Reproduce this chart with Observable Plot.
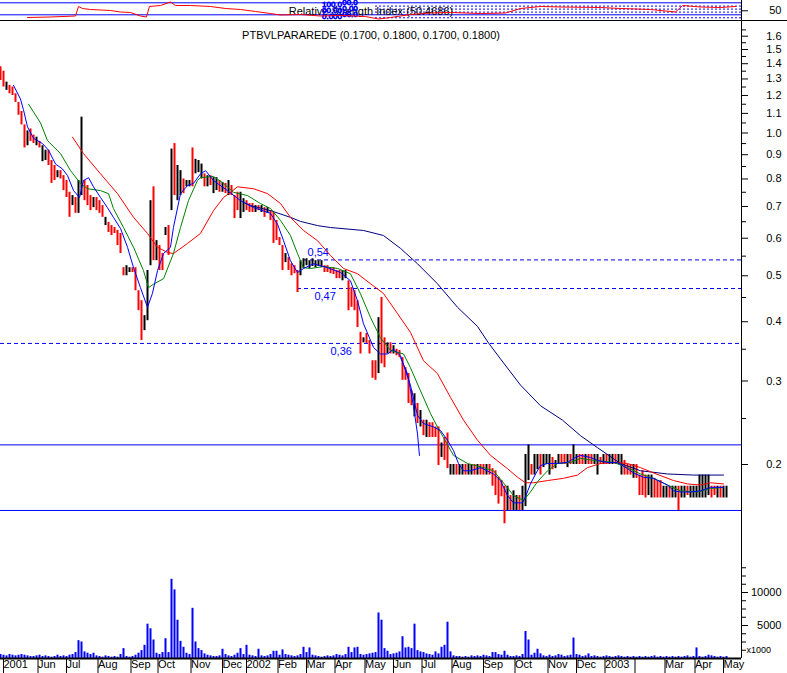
<!DOCTYPE html>
<html>
<head>
<meta charset="utf-8">
<script src="https://cdn.jsdelivr.net/npm/d3@7"></script>
<script src="https://cdn.jsdelivr.net/npm/@observablehq/plot@0.6"></script>
<style>
  html, body { margin: 0; padding: 0; background: #fff; }
  #chart { width: 787px; }
  #chart svg { display: block; }
  #rsiWrap { border-bottom: 1px solid #000; height: 20px; }
</style>
</head>
<body>
<div id="chart"><div id="rsiWrap"></div><div id="priceWrap"></div><div id="volWrap"></div></div>
<script>
// ---------- DATA ----------
const ticker = "PTBVLPARAREDE";
const lastOHLC = ["0.1700", "0.1800", "0.1700", "0.1800"];
const rsiTitle = "Relative Strength Index (50.4686)";

// one bar every 2 trading days (t = 0, 2, 4, ...)
const highs = [
  1.38,1.35,1.28,1.26,1.25,1.21,1.16,1.11,1.04,1.01,
  1.02,0.99,0.98,0.96,0.94,0.92,0.92,0.875,0.854,0.833,
  0.833,0.813,0.794,0.75,0.738,0.731,0.794,1.08,0.794,0.775,
  0.738,0.731,0.731,0.72,0.703,0.664,0.648,0.638,0.632,0.623,
  0.614,0.52,0.525,0.52,0.52,0.52,0.465,0.443,0.412,0.513,
  0.72,0.77,0.593,0.579,0.557,0.632,0.638,0.925,0.95,0.854,
  0.833,0.80,0.794,0.794,0.93,0.88,0.875,0.86,0.82,0.813,
  0.813,0.805,0.805,0.794,0.787,0.783,0.794,0.775,0.738,0.75,
  0.75,0.727,0.72,0.71,0.71,0.703,0.703,0.703,0.696,0.696,
  0.686,0.68,0.654,0.602,0.579,0.557,0.546,0.53,0.525,0.513,
  0.538,0.543,0.543,0.538,0.543,0.538,0.538,0.538,0.525,0.525,
  0.52,0.52,0.513,0.513,0.513,0.513,0.488,0.472,0.465,0.443,
  0.38,0.37,0.378,0.365,0.331,0.331,0.408,0.45,0.37,0.361,
  0.361,0.356,0.35,0.348,0.336,0.32,0.311,0.286,0.282,0.269,
  0.26,0.248,0.248,0.245,0.245,0.24,0.24,0.222,0.228,0.233,
  0.20,0.20,0.20,0.20,0.20,0.20,0.20,0.20,0.20,0.20,0.20,0.20,0.20,0.20,
  0.196,0.194,0.188,0.185,0.18,0.18,0.172,0.176,0.172,0.172,
  0.18,0.21,0.22,0.20,0.21,0.21,0.21,0.21,0.21,0.21,
  0.207,0.204,0.21,0.21,0.21,0.21,0.21,0.22,0.21,0.21,
  0.21,0.21,0.21,0.21,0.21,0.21,0.207,0.21,0.21,0.21,
  0.21,0.21,0.21,0.21,0.204,0.20,0.20,0.20,0.20,0.19,
  0.194,0.19,0.19,0.19,0.187,0.185,0.185,0.18,0.18,0.18,
  0.18,0.18,0.18,0.18,0.18,0.18,0.18,0.18,0.18,0.19,
  0.19,0.19,0.19,0.18,0.18,0.18,0.18,0.18,0.18
];
const lows = [
  1.29,1.25,1.23,1.21,1.20,1.16,1.09,1.04,0.93,0.94,
  0.96,0.95,0.94,0.93,0.87,0.875,0.854,0.783,0.794,0.805,
  0.80,0.756,0.731,0.664,0.703,0.677,0.677,0.738,0.72,0.703,
  0.686,0.696,0.686,0.677,0.664,0.638,0.617,0.608,0.614,0.579,
  0.557,0.50,0.50,0.508,0.508,0.465,0.422,0.365,0.383,0.402,
  0.525,0.538,0.538,0.513,0.513,0.608,0.552,0.686,0.738,0.72,
  0.738,0.745,0.77,0.77,0.77,0.82,0.825,0.80,0.77,0.77,
  0.775,0.745,0.756,0.75,0.75,0.745,0.738,0.738,0.66,0.686,
  0.66,0.68,0.686,0.68,0.68,0.68,0.686,0.68,0.664,0.677,
  0.654,0.585,0.593,0.579,0.513,0.533,0.513,0.50,0.505,0.461,
  0.50,0.518,0.525,0.518,0.523,0.52,0.523,0.52,0.508,0.508,
  0.505,0.503,0.493,0.493,0.488,0.493,0.422,0.429,0.422,0.389,
  0.342,0.361,0.36,0.342,0.304,0.301,0.311,0.326,0.32,0.342,
  0.342,0.342,0.339,0.336,0.301,0.301,0.269,0.266,0.252,0.244,
  0.24,0.23,0.228,0.228,0.228,0.228,0.199,0.207,0.204,0.196,
  0.19,0.19,0.19,0.19,0.19,0.19,0.19,0.19,0.19,0.19,0.19,0.19,0.19,0.19,
  0.18,0.172,0.165,0.171,0.15,0.16,0.16,0.16,0.16,0.16,
  0.16,0.163,0.185,0.19,0.19,0.195,0.19,0.197,0.20,0.19,
  0.195,0.196,0.20,0.20,0.20,0.197,0.20,0.20,0.20,0.20,
  0.20,0.20,0.20,0.20,0.20,0.19,0.20,0.20,0.20,0.20,
  0.20,0.20,0.20,0.19,0.19,0.19,0.19,0.187,0.187,0.172,
  0.172,0.17,0.172,0.17,0.17,0.17,0.17,0.17,0.17,0.17,
  0.17,0.17,0.16,0.17,0.17,0.172,0.17,0.17,0.17,0.17,
  0.17,0.17,0.172,0.17,0.172,0.17,0.17,0.17,0.17
];
// k = up (black), r = down (red)
const dirs = ("rrkrrrrrrk" + "rrkrkkrrrk" + "rrrrkrkkrr" + "rkrrrkrrrr" + "rrkkrrrrkk" +
  "krkrrkrkrk" + "krkkrkkkrk" + "rkkrkrkrrr" + "kkrrrkrkrk" + "rrrrrkrrrr" +
  "kkkkkkkkrr" + "rrrrkkrrrr" + "rkrrrrkrrk" + "rkrrrrrrkr" + "krkrrrrkrr" +
  "kkrkkrkkrk" + "rrkrrrrrrk" + "rkkrkkkrkk" + "rkkkrkkrrk" + "rkkrrkrrkk" +
  "rkrkkrkkrr" + "rkrrrrkkrr" + "rkkrkkrkkr" + "kkkkkkkrrk" + "rkk").split("");
// volume, in thousands
const volume = [
  600,500,400,600,500,400,500,600,500,400,
  300,300,400,500,300,400,300,200,300,500,
  300,400,300,500,600,900,2700,2500,1000,800,
  600,800,400,300,200,400,300,200,300,200,
  600,1500,300,200,300,500,800,1200,2000,5200,
  4500,2800,800,600,900,3000,900,12000,10400,5800,
  2600,1700,800,600,7600,2500,1500,1200,700,500,
  400,300,300,400,1400,600,400,300,500,800,
  1500,600,2000,500,400,300,1400,400,300,400,
  600,1100,1100,500,1300,600,500,400,300,400,
  600,1700,900,1600,500,400,300,200,300,400,
  300,400,600,500,400,600,1700,900,1600,1700,
  600,500,600,700,800,900,6900,5800,1500,1100,
  600,700,800,1000,3300,1600,1700,1500,5200,1200,
  1000,900,700,600,500,1000,700,1700,2000,5500,
  1000,400,300,300,200,300,200,400,300,400,
  300,500,400,300,900,900,600,500,1100,500,
  300,300,400,300,600,4100,2800,500,800,1400,
  700,400,300,500,300,400,600,500,300,400,
  500,3100,600,500,300,400,700,300,400,300,
  200,300,400,300,200,300,400,300,200,300,
  200,300,200,300,200,300,200,300,400,200,
  300,200,300,200,300,200,300,200,300,400,
  200,300,1600,300,200,300,500,400,300,200,
  300,200,300
];

// moving averages [trading day, price]
const maShort = [[8.7,1.26],[13.3,1.18],[15.3,1.12],[18,1.03],[22,0.975],[28,0.95],[32,0.92],[36.7,0.86],[41.3,0.84],[44.7,0.813],[48.7,0.756],[52.7,0.731],[55.3,0.794],[58.7,0.805],[62,0.77],[66.7,0.731],[71.3,0.696],[75.3,0.664],[80,0.629],[84.7,0.574],[88.7,0.52],[93.3,0.472],[98,0.429],[101.3,0.459],[104.7,0.513],[108.7,0.557],[113.3,0.574],[115.3,0.632],[120,0.745],[124.7,0.775],[128.7,0.783],[133.3,0.82],[136.7,0.833],[142,0.794],[151.3,0.756],[160,0.72],[168.7,0.696],[180,0.677],[184.7,0.642],[188.7,0.593],[193.3,0.538],[198,0.508],[202,0.518],[208.7,0.53],[218,0.52],[226.7,0.508],[233.3,0.488],[238,0.443],[242,0.396],[248.7,0.353],[253.3,0.342],[258,0.342],[262,0.35],[266.7,0.339],[273.3,0.294],[278,0.254],[282,0.244],[288.7,0.24],[293.3,0.236],[298,0.225],[302,0.214],[305.3,0.201],[308.7,0.194],[313.3,0.194],[320,0.197],[328.7,0.191],[333.3,0.185],[338,0.172],[342,0.166],[348,0.166],[350,0.171],[353.3,0.182],[356.7,0.191],[360,0.199],[364.7,0.201],[371.3,0.201],[378,0.202],[383.3,0.207],[386.7,0.209],[393.3,0.207],[398,0.204],[404.7,0.202],[411.3,0.202],[418,0.196],[422,0.192],[428.7,0.188],[435.3,0.187],[444.7,0.181],[448.7,0.176],[453.3,0.175],[460,0.175],[466.7,0.176],[473.3,0.179],[482,0.179]];
const maDrop = [[266.7,0.336],[271.3,0.311],[275.3,0.266],[278,0.232],[279.3,0.209]];
const maMid = [[18.7,1.15],[26.7,1.05],[31.3,0.964],[40,0.905],[46.7,0.833],[53.3,0.783],[58,0.763],[66.7,0.756],[72,0.745],[75.3,0.693],[82,0.632],[88.7,0.574],[95.3,0.513],[98.7,0.472],[102,0.48],[108.7,0.493],[115.3,0.557],[120,0.632],[125.3,0.72],[131.3,0.794],[133.3,0.805],[142,0.81],[148.7,0.783],[155.3,0.75],[164.7,0.738],[173.3,0.71],[180,0.693],[186.7,0.654],[193.3,0.608],[198,0.557],[202,0.52],[206.7,0.518],[215.3,0.523],[224.7,0.518],[233.3,0.505],[240,0.458],[246.7,0.408],[253.3,0.37],[260,0.348],[268.7,0.342],[273.3,0.32],[280,0.286],[286.7,0.256],[291.3,0.24],[295.3,0.228],[302,0.209],[311.3,0.201],[322,0.197],[328.7,0.194],[335.3,0.183],[342,0.172],[348.7,0.168],[353.3,0.175],[358,0.184],[364.7,0.194],[371.3,0.201],[380,0.202],[386.7,0.206],[395.3,0.204],[408.7,0.202],[418,0.197],[426.7,0.191],[435.3,0.187],[444.7,0.181],[453.3,0.176],[464.7,0.175],[473.3,0.178],[482,0.179]];
const maLong = [[48,0.98],[55.3,0.905],[66.7,0.82],[78,0.745],[88.7,0.664],[98,0.614],[104.7,0.574],[111.3,0.56],[115.3,0.557],[124.7,0.585],[133.3,0.614],[142,0.686],[148.7,0.731],[158,0.77],[168.7,0.763],[178,0.745],[186.7,0.71],[193.3,0.664],[202,0.623],[211.3,0.593],[220,0.552],[228.7,0.518],[238,0.505],[246.7,0.481],[255.3,0.459],[264.7,0.416],[273.3,0.38],[282,0.331],[291.3,0.311],[300,0.277],[308.7,0.248],[318,0.225],[326.7,0.209],[338,0.196],[344.7,0.188],[350,0.183],[355.3,0.183],[364.7,0.185],[375.3,0.187],[384.7,0.19],[391.3,0.197],[400,0.201],[408.7,0.202],[418,0.201],[426.7,0.197],[435.3,0.192],[448.7,0.185],[458,0.182],[466.7,0.181],[473.3,0.183],[482,0.182]];
const maVeryLong = [[163,0.712],[166.7,0.703],[180,0.686],[193.3,0.664],[200,0.651],[211.3,0.638],[220,0.632],[242,0.623],[255.3,0.608],[266.7,0.571],[278,0.53],[291.3,0.481],[304.7,0.429],[318,0.391],[325.3,0.361],[333.3,0.334],[346.7,0.294],[360,0.266],[374.7,0.248],[386.7,0.23],[398,0.217],[413.3,0.201],[426.7,0.194],[444.7,0.191],[462,0.19],[482,0.19]];

// RSI [trading day, value]
const rsi = [[18,21],[33.3,22.7],[50,26],[52,57.7],[54.7,51],[60,47.7],[73.3,44.3],[80,39.3],[86.7,37.7],[93.3,26],[97.3,22.7],[99.3,57.7],[106.7,61],[113.3,72.7],[116.7,61],[126.7,61],[140,57.7],[150,51],[160,47.7],[170,41],[180,34.3],[186.7,29.3],[200,31],[213.3,26],[226.7,27.7],[243.3,24.3],[252,16],[260,21],[273.3,31],[286.7,36],[300,37.7],[320,34.3],[336.7,36],[346.7,51],[360,57.7],[373.3,56],[400,54.3],[413.3,51],[433.3,47.7],[450,39.3],[454.7,61],[466.7,56],[480,54.3],[490,57.7]];
const rsiBands = [30, 70];
const rsiDotted = [59, 49, 39, 20];
const rsiDottedFrom = 250;
const rsiTags = [
  {t: 221, v: 66, s: "100.0"}, {t: 221, v: 46, s: "00.00"}, {t: 221, v: 26, s: "0.000"},
  {t: 233, v: 70, s: "00.0"}, {t: 233, v: 50, s: "0.00"}, {t: 233, v: 30, s: "00.0"}
];

// horizontal studies
const supportLines = [0.22, 0.16];
const levels = [
  {v: 0.54, from: 202, labelT: 204.7, label: "0,54", above: true},
  {v: 0.47, from: 198, labelT: 209.3, label: "0,47", above: false},
  {v: 0.36, from: 0, labelT: 220, label: "0,36", above: false}
];

// axes
const tEnd = 494;
const priceTicks = [0.2, 0.3, 0.4, 0.5, 0.6, 0.7, 0.8, 0.9, 1.0, 1.1, 1.2, 1.3, 1.4, 1.5, 1.6];
const priceMinor = [0.25, 0.35, 0.45, 0.55, 0.65, 0.75, 0.85, 0.95, 1.05, 1.15, 1.25, 1.35, 1.45, 1.55, 1.65];
const volTicks = [5000, 10000];
const volMinor = [1250, 2500, 3750, 6250, 7500, 8750, 11250, 12500, 13750];
const monthStarts = [0, 23, 42, 63, 85, 103, 125, 146, 162, 183, 202, 221, 241, 260, 279, 299, 320, 341, 363, 382, 401, 421, 441, 461, 480];
const monthLabels = ["2001", "Jun", "Jul", "Aug", "Sep", "Oct", "Nov", "Dec", "2002", "Feb", "Mar", "Apr", "May", "Jun", "Jul", "Aug", "Sep", "Oct", "Nov", "Dec", "2003", "", "Mar", "Apr", "May"];

// ---------- BUILD ----------
const bars = highs.map((h, i) => ({t: i * 2, high: h, low: lows[i], up: dirs[i] === "k", vol: volume[i]}));
const font = "'Liberation Sans', Arial, sans-serif";
const baseStyle = {fontFamily: font, fontSize: "11px", background: "#fff", color: "#000", overflow: "visible"};
const xOpt = {domain: [0, tEnd], axis: null, label: null};
const common = {width: 787, marginLeft: 0, marginRight: 46, marginTop: 0};
const px = d => d[0], py = d => d[1];
const labelOf = new Map(monthStarts.map((t, i) => [t, monthLabels[i]]));

const rsiPlot = Plot.plot({
  ...common, height: 20, marginBottom: 0,
  x: xOpt,
  y: {domain: [0, 100], range: [23.3, -6.7], axis: null, label: null},
  style: baseStyle,
  marks: [
    Plot.ruleY(rsiBands, {stroke: "#0000ff"}),
    Plot.ruleY(rsiDotted, {x1: rsiDottedFrom, x2: tEnd, stroke: "#0000ff", strokeDasharray: "2,2"}),
    Plot.text([rsiTitle], {frameAnchor: "middle", dy: 1, fontSize: 11, fill: "#000"}),
    Plot.text(rsiTags, {x: "t", y: "v", text: "s", fill: "none", stroke: "#0000ff", strokeWidth: 0.8, fontSize: 8}),
    Plot.line(rsi, {x: px, y: py, stroke: "#ff0000", strokeWidth: 1}),
    Plot.ruleX([tEnd], {stroke: "#000"}),
    Plot.axisY([50], {anchor: "right", label: null, tickSize: 6, tickPadding: 34, textAnchor: "end", dy: 2, tickFormat: d => String(d), fontSize: 11})
  ]
});

const pricePlot = Plot.plot({
  ...common, height: 524, marginBottom: 0,
  x: xOpt,
  y: {type: "log", domain: [0.2, 1.6], range: [443, 14.7], axis: null, label: null},
  style: baseStyle,
  marks: [
    Plot.ruleY(supportLines, {stroke: "#0000ff", strokeWidth: 1}),
    Plot.ruleY(levels, {y: "v", x1: "from", x2: tEnd, stroke: "#0000ff", strokeDasharray: "4,3"}),
    Plot.text(levels.filter(d => d.above), {x: "labelT", y: "v", text: "label", textAnchor: "start", dy: -7, fill: "#0000ff", fontSize: 11}),
    Plot.text(levels.filter(d => !d.above), {x: "labelT", y: "v", text: "label", textAnchor: "start", dy: 8, fill: "#0000ff", fontSize: 11}),
    Plot.ruleX(bars.filter(d => !d.up), {x: "t", y1: "low", y2: "high", stroke: "#ff0000", strokeWidth: 2}),
    Plot.ruleX(bars.filter(d => d.up), {x: "t", y1: "low", y2: "high", stroke: "#000000", strokeWidth: 2}),
    Plot.line(maVeryLong, {x: px, y: py, stroke: "#000080", strokeWidth: 1}),
    Plot.line(maLong, {x: px, y: py, stroke: "#ff0000", strokeWidth: 1}),
    Plot.line(maMid, {x: px, y: py, stroke: "#008000", strokeWidth: 1}),
    Plot.line(maShort, {x: px, y: py, stroke: "#0000ff", strokeWidth: 1}),
    Plot.line(maDrop, {x: px, y: py, stroke: "#0000ff", strokeWidth: 1}),
    Plot.text([`${ticker} (${lastOHLC.join(", ")})`], {frameAnchor: "top", dy: 10, fontSize: 11, fill: "#000"}),
    Plot.ruleX([tEnd], {stroke: "#000"}),
    Plot.axisY(priceTicks, {anchor: "right", label: null, tickSize: 6, tickPadding: 34, textAnchor: "end", tickFormat: d => d.toFixed(1), fontSize: 11}),
    Plot.axisY(priceMinor, {anchor: "right", label: null, tickSize: 4, tickFormat: () => ""})
  ]
});

const volPlot = Plot.plot({
  ...common, height: 128, marginBottom: 15,
  x: xOpt,
  y: {domain: [0, 10000], range: [113, 47], axis: null, label: null},
  style: baseStyle,
  marks: [
    Plot.ruleX(bars, {x: "t", y1: 0, y2: "vol", stroke: "#0000ff", strokeWidth: 2}),
    Plot.ruleY([0], {stroke: "#000", strokeWidth: 2}),
    Plot.ruleX([tEnd], {stroke: "#000"}),
    Plot.axisY(volTicks, {anchor: "right", label: null, tickSize: 6, tickPadding: 34, textAnchor: "end", tickFormat: d => String(d), fontSize: 11}),
    Plot.axisY(volMinor, {anchor: "right", label: null, tickSize: 4, tickFormat: () => ""}),
    Plot.axisX(monthStarts, {anchor: "bottom", label: null, tickSize: 15, tickPadding: -13, textAnchor: "start", lineAnchor: "top", dx: 3, tickFormat: d => labelOf.get(d), fontSize: 11}),
    Plot.text(["x1000"], {frameAnchor: "bottom-right", textAnchor: "start", dx: 5, dy: -6, fontSize: 9, fill: "#000"})
  ]
});

document.getElementById("rsiWrap").appendChild(rsiPlot);
document.getElementById("priceWrap").appendChild(pricePlot);
document.getElementById("volWrap").appendChild(volPlot);
</script>
</body>
</html>
